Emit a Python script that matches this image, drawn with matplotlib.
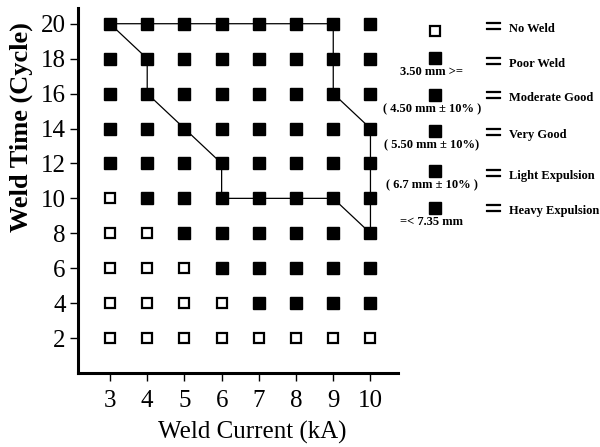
import matplotlib
matplotlib.use("Agg")
import matplotlib.pyplot as plt
import matplotlib.patheffects as pe

plt.rcParams['font.family'] = ['Liberation Serif', 'DejaVu Serif']

# weld current (kA) and weld time (cycle)
currents = [3, 4, 5, 6, 7, 8, 9, 10]
times = [2, 4, 6, 8, 10, 12, 14, 16, 18, 20]
# number of "no weld" points from the left, per weld time row
no_weld_count = [8, 4, 3, 2, 1, 0, 0, 0, 0, 0]

# outline of the good-weld lobe
lobe_x = [3, 9, 9, 10, 10, 9, 6, 6, 5, 4, 4, 3]
lobe_y = [20, 20, 16, 14, 8, 10, 10, 12, 14, 16, 18, 20]

legend_names = ['No Weld', 'Poor Weld', 'Moderate Good', 'Very Good',
                'Light Expulsion', 'Heavy Expulsion']
legend_notes = ['', '3.50 mm >=', '( 4.50 mm \u00b1 10% )', '( 5.50 mm \u00b1 10%)',
                '( 6.7 mm \u00b1 10% )', '=< 7.35 mm']

fig = plt.figure(figsize=(6, 4.47), dpi=100)
ax = fig.add_axes([78/600, 74/447, 320/600, 365/447])

open_x, open_y, fill_x, fill_y = [], [], [], []
for t, n in zip(times, no_weld_count):
    for i, c in enumerate(currents):
        if i < n:
            open_x.append(c); open_y.append(t)
        else:
            fill_x.append(c); fill_y.append(t)

ax.plot(lobe_x, lobe_y, color='black', lw=0.9, zorder=2)
ax.plot(fill_x, fill_y, 's', color='black', ms=8, zorder=3)
ax.plot(open_x, open_y, 's', mfc='white', mec='black', mew=1.6, ms=7, zorder=3)

ax.set_xlim(2.14, 10.74)
ax.set_ylim(0, 20.9)
ax.set_xticks(currents)
ax.set_yticks(times)
ax.tick_params(direction='out', length=6, width=1, labelsize=18, pad=3)
ax.tick_params(axis='x', pad=6)
for s in ['top', 'right']:
    ax.spines[s].set_visible(False)
for s in ['left', 'bottom']:
    ax.spines[s].set_linewidth(2.2)
ax.set_xlabel('Weld Current (kA)', fontsize=18)
ax.set_ylabel('Weld Time (Cycle)', fontsize=19, fontweight='bold')
ax.xaxis.set_label_coords(0.544, -0.13)
ax.yaxis.set_label_coords(-0.14, 0.674)

# hand-made legend on the right
lg = fig.add_axes([380/600, 207/447, 220/600, 240/447])
lg.set_xlim(0, 220)
lg.set_ylim(240, 0)
lg.axis('off')
marker_y = [31, 58, 95, 131, 171, 208]
name_y = [29, 64, 98, 135, 176, 211]
for k, name in enumerate(legend_names):
    if k == 0:
        lg.plot([55], [marker_y[k]], 's', mfc='white', mec='black', mew=1.6, ms=7)
    else:
        lg.plot([55], [marker_y[k]], 's', color='black', ms=8)
        lg.text(52, marker_y[k] + 14, legend_notes[k], ha='center', va='center',
                fontsize=9, fontweight='bold')
    lg.text(113, name_y[k] - 1, '=', ha='center', va='center', fontsize=21,
            path_effects=[pe.withStroke(linewidth=0.9, foreground='black')])
    lg.text(129, name_y[k], name, ha='left', va='center', fontsize=9,
            fontweight='bold')

fig.savefig('out.png', dpi=100)
